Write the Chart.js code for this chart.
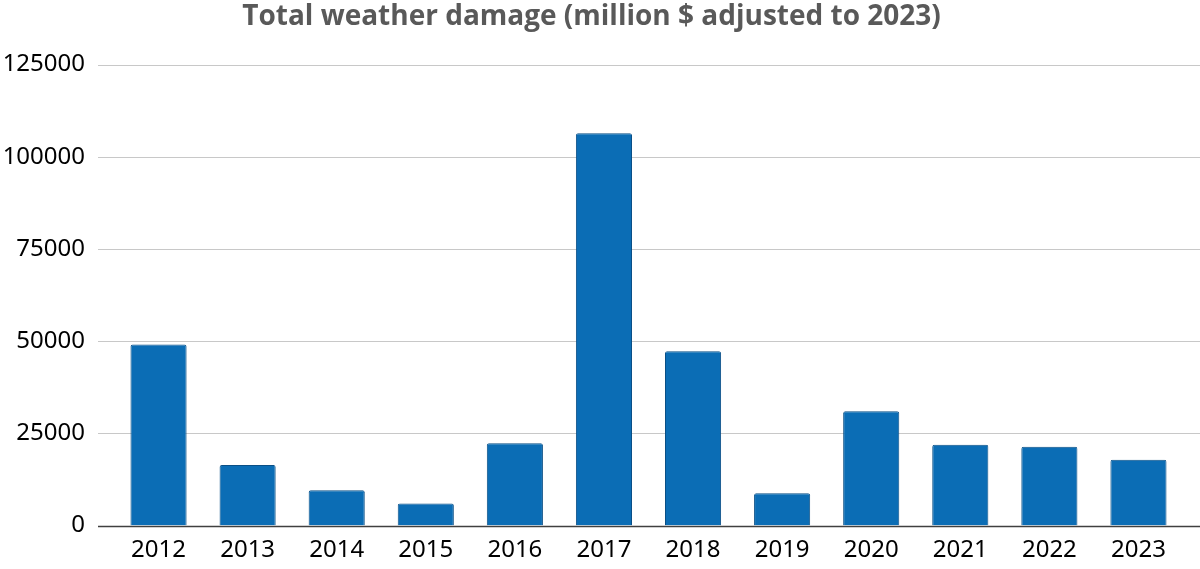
<!DOCTYPE html>
<html>
<head>
<meta charset="utf-8">
<script src="https://cdn.jsdelivr.net/npm/chart.js@4"></script>
<style>
  html, body { margin: 0; padding: 0; background: #fff; overflow: hidden; }
  .chart { position: relative; width: 1200px; height: 569px; }
</style>
</head>
<body>
<div class="chart"><canvas id="chart"></canvas></div>
<script>
const years = ['2012', '2013', '2014', '2015', '2016', '2017', '2018', '2019', '2020', '2021', '2022', '2023']
const damage = [49100, 16400, 9600, 6000, 22300, 106400, 47300, 8750, 31000, 21900, 21400, 17850]
const yTicks = [0, 25000, 50000, 75000, 100000, 125000]

// horizontal gridlines drawn a bit wider than the plot area, like the original
const wideGrid = {
  id: 'wideGrid',
  beforeDatasetsDraw(chart) {
    const { ctx, chartArea, scales } = chart
    ctx.save()
    yTicks.forEach((v) => {
      const y = Math.round(scales.y.getPixelForValue(v)) + 0.5
      ctx.beginPath()
      ctx.strokeStyle = v === 0 ? '#404040' : '#c8c8c8'
      ctx.lineWidth = v === 0 ? 1.5 : 1.2
      ctx.moveTo(chartArea.left - 16, y)
      ctx.lineTo(chartArea.right + 18, y)
      ctx.stroke()
    })
    ctx.restore()
  }
}

new Chart(document.getElementById('chart'), {
  type: 'bar',
  data: {
    labels: years,
    datasets: [{
      data: damage,
      backgroundColor: '#0b6db5',
      borderColor: '#0a4f86',
      borderWidth: 1,
      borderRadius: 2,
      borderSkipped: 'bottom',
      barPercentage: 0.63,
      categoryPercentage: 1
    }]
  },
  options: {
    responsive: true,
    maintainAspectRatio: false,
    animation: false,
    layout: { padding: { left: 0, right: 17, top: 0, bottom: 0 } },
    plugins: {
      legend: { display: false },
      tooltip: { enabled: false },
      title: {
        display: true,
        text: 'Total weather damage (million $ adjusted to 2023)',
        color: '#595959',
        font: { family: 'Open Sans', size: 28, weight: 'bold' },
        padding: { top: 0, bottom: 31 }
      }
    },
    scales: {
      x: {
        afterFit: (scale) => { scale.height = 36 },
        grid: { display: false, drawTicks: false },
        border: { display: false },
        ticks: {
          color: '#000',
          font: { family: 'Noto Sans', size: 24 },
          padding: 10
        }
      },
      y: {
        min: 0,
        max: 125000,
        afterBuildTicks: (scale) => { scale.ticks = yTicks.map((v) => ({ value: v })) },
        afterFit: (scale) => { scale.width = 114 },
        grid: { display: false, drawTicks: false },
        border: { display: false },
        ticks: {
          color: '#000',
          font: { family: 'Noto Sans', size: 24 },
          padding: 29,
          callback: (v) => String(v)
        }
      }
    }
  },
  plugins: [wideGrid]
})
</script>
</body>
</html>
